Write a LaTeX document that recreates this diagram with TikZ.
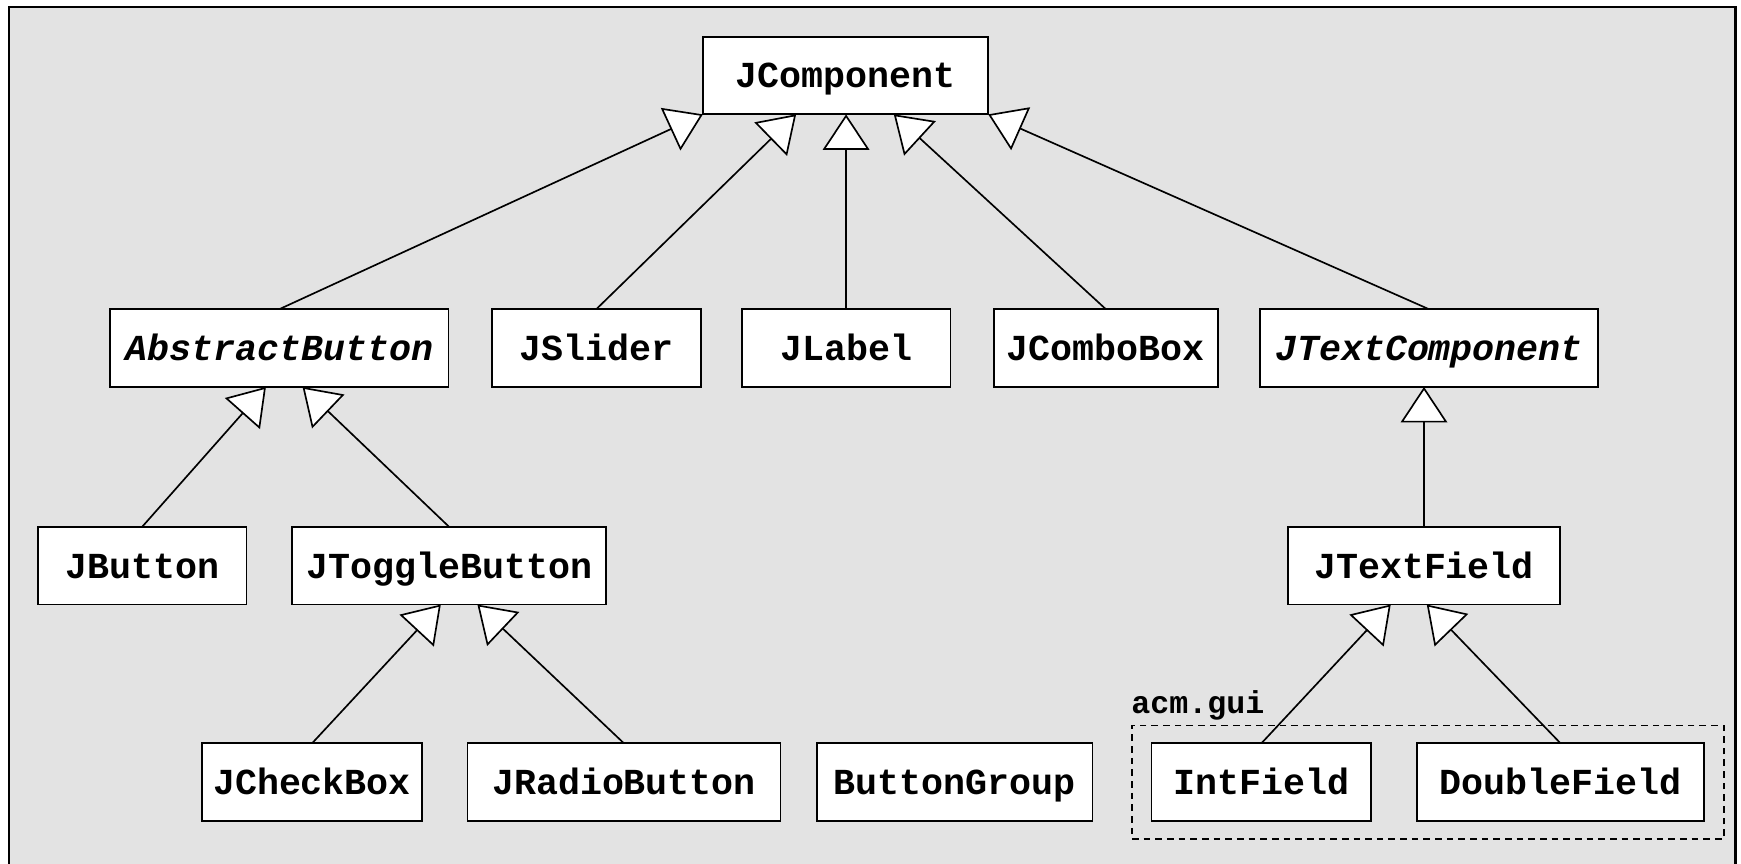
\documentclass[tikz,border=0pt]{standalone}
\usepackage{fontspec}
\setmonofont{Liberation Mono}
\usepackage{tikz}
\usetikzlibrary{arrows.meta, positioning, fit}
\definecolor{panel}{RGB}{227,227,227}
\tikzstyle{uml} = [rectangle, draw, line width=1.6pt, fill=white, outer sep=0pt, minimum width=188pt, minimum height=70pt, inner xsep=4pt, text height=22.5pt, text depth=0pt, font=\ttfamily\bfseries\fontsize{33pt}{40pt}\selectfont]
\tikzstyle{abstract} = [font=\ttfamily\bfseries\itshape\fontsize{33pt}{40pt}\selectfont]
\tikzstyle{extends} = [draw, line width=1.5pt, -{Triangle[length=32pt, width=42pt, fill=white, line width=1.5pt]}]
\tikzstyle{pkg} = [draw, line width=1.5pt, dash pattern=on 6pt off 4.5pt, inner xsep=17.5pt, inner ysep=16pt]
\tikzstyle{pkgname} = [anchor=base west, inner sep=0pt, font=\ttfamily\bfseries\fontsize{28.5pt}{34pt}\selectfont]

\begin{document}
\begin{tikzpicture}[x=1pt, y=-1pt, node distance=39pt]
    \clip (0,0) rectangle (1568,778);
    \draw [line width=2.2pt, fill=panel] (8,6.3) rectangle (1563,800);

    % top of the hierarchy
    \node (jcomp) [uml, minimum width=257pt] at (761.5,68) {JComponent};

    % direct subclasses
    \node (absbtn) [uml, abstract, minimum width=305pt] at (251.5,313.5) {AbstractButton};
    \node (jslider) [uml, right=of absbtn] {JSlider};
    \node (jlabel) [uml, right=37pt of jslider] {JLabel};
    \node (jcombo) [uml, right=of jlabel, minimum width=202pt] {JComboBox};
    \node (jtextcomp) [uml, abstract, right=38pt of jcombo, minimum width=304pt] {JTextComponent};

    % second level
    \node (jbutton) [uml] at (128,509.5) {JButton};
    \node (jtoggle) [uml, right=41pt of jbutton, minimum width=283pt] {JToggleButton};
    \node (jtextfield) [uml, minimum width=245pt] at (1282.5,509.5) {JTextField};

    % third level
    \node (jcheckbox) [uml, minimum width=198pt] at (281,704.5) {JCheckBox};
    \node (jradio) [uml, right=41pt of jcheckbox, minimum width=282pt] {JRadioButton};
    \node (btngroup) [uml, right=33pt of jradio, minimum width=248pt] {ButtonGroup};
    \node (intfield) [uml, minimum width=198pt] at (1136,704.5) {IntField};
    \node (doublefield) [uml, right=41pt of intfield, minimum width=259pt] {DoubleField};

    % acm.gui package
    \node (acmgui) [pkg, fit=(intfield) (doublefield)] {};
    \node (acmguiname) [pkgname] at ([yshift=10pt]acmgui.north west) {acm.gui};

    \draw [extends] (absbtn.north) -- (jcomp.south west);
    \draw [extends] (jslider.north) -- ([xshift=-44.5pt]jcomp.south);
    \draw [extends] (jlabel.north) -- (jlabel.north |- jcomp.south);
    \draw [extends] (jcombo.north) -- ([xshift=43.5pt]jcomp.south);
    \draw [extends] (jtextcomp.north) -- (jcomp.south east);

    \draw [extends] (jbutton.north) -- ([xshift=-12pt]absbtn.south);
    \draw [extends] (jtoggle.north) -- ([xshift=21pt]absbtn.south);
    \draw [extends] (jcheckbox.north) -- ([xshift=-7.5pt]jtoggle.south);
    \draw [extends] (jradio.north) -- ([xshift=25.5pt]jtoggle.south);

    \draw [extends] (jtextfield.north) -- (jtextfield.north |- jtextcomp.south);
    \draw [extends] (intfield.north) -- ([xshift=-30pt]jtextfield.south);
    \draw [extends] (doublefield.north) -- ([xshift=2.5pt]jtextfield.south);
\end{tikzpicture}
\end{document}
